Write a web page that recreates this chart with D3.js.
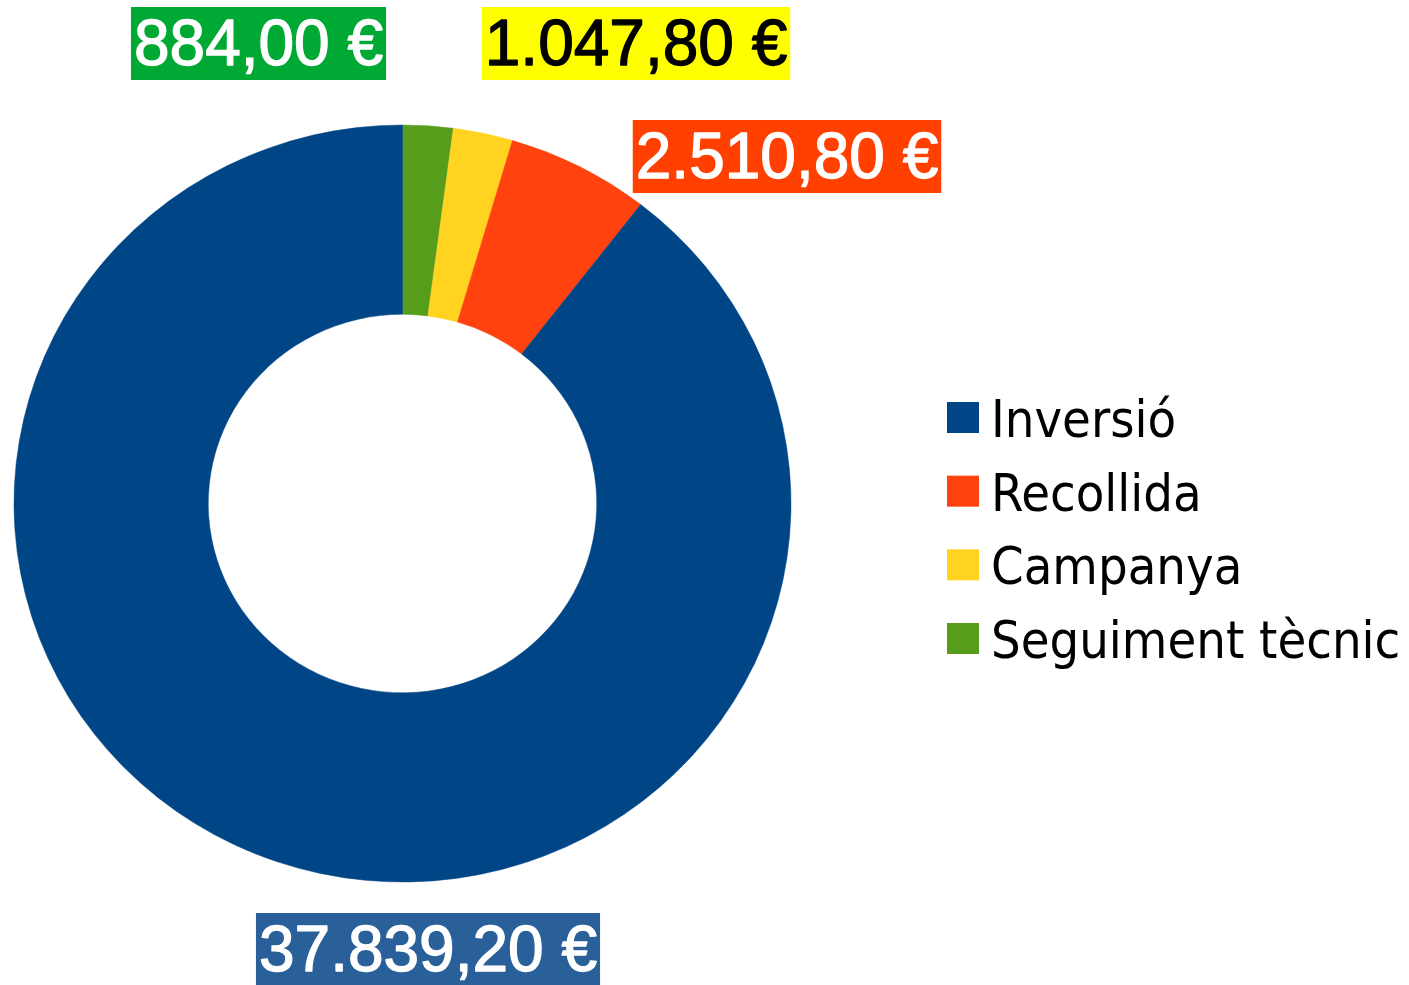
<!DOCTYPE html>
<html>
<head>
<meta charset="utf-8">
<script src="https://cdn.jsdelivr.net/npm/d3@7"></script>
<style>
  html, body { margin: 0; padding: 0; background: #fff; }
  svg { display: block; }
</style>
</head>
<body>
<svg id="chart" width="1409" height="985"></svg>
<script>
// Data (legend order)
const categories = ["Inversió", "Recollida", "Campanya", "Seguiment tècnic"];
const values = [37839.20, 2510.80, 1047.80, 884.00];
const sliceColors = ["#004586", "#ff420e", "#ffd320", "#579d1c"];
const labelBg = ["#2a6099", "#ff4000", "#ffff00", "#00a933"];
const labelFg = ["#ffffff", "#ffffff", "#000000", "#ffffff"];
const labelTexts = ["37.839,20 €", "2.510,80 €", "1.047,80 €", "884,00 €"];

// Layout
const W = 1409, H = 985;
const cx = 402.5, cy = 503.5;
const ry = 378.5, sx = 388.5 / 378.5;
const innerRatio = 0.5;
// label centers (placed like the original, outside the ring)
const labelCenters = [[428, 949.5], [787, 156.5], [636, 43.5], [258.5, 43.5]];

const svg = d3.select("#chart");

const data = categories.map((c, i) => ({ name: c, value: values[i], i }));
// pie drawn clockwise from 12 o'clock in reverse legend order
const pieData = d3.pie().sort(null).value(d => d.value)(data.slice().reverse());

const arc = d3.arc().innerRadius(ry * innerRatio).outerRadius(ry);

const g = svg.append("g")
  .attr("transform", `translate(${cx},${cy}) scale(${sx},1)`);

g.selectAll("path")
  .data(pieData)
  .join("path")
  .attr("d", arc)
  .attr("fill", d => sliceColors[d.data.i])
  .attr("stroke", d => sliceColors[d.data.i])
  .attr("stroke-width", 0.5);

// Value labels
const fontSize = 64;
const lab = svg.append("g").attr("font-family", "'Liberation Sans', Arial, sans-serif")
  .attr("font-size", fontSize);

data.forEach((d, i) => {
  const [x, y] = labelCenters[i];
  const t = lab.append("text")
    .attr("x", x)
    .attr("y", y + 21)
    .attr("text-anchor", "middle")
    .attr("fill", labelFg[i])
    .attr("stroke", labelFg[i])
    .attr("stroke-width", 1.3)
    .attr("stroke-linejoin", "round")
    .text(labelTexts[i]);
  const bb = t.node().getBBox();
  lab.insert("rect", "text")
    .attr("x", bb.x - 3)
    .attr("y", y - 36.5)
    .attr("width", bb.width + 6)
    .attr("height", 73)
    .attr("fill", labelBg[i]);
});

// Legend
const legend = svg.append("g")
  .attr("font-family", "'DejaVu Sans Condensed', 'DejaVu Sans', sans-serif")
  .attr("font-size", 52);
const rowY = d3.scalePoint().domain(categories).range([402, 623]);
categories.forEach((c, i) => {
  const y = rowY(c);
  legend.append("rect")
    .attr("x", 947).attr("y", y)
    .attr("width", 32).attr("height", 31)
    .attr("fill", sliceColors[i]);
  legend.append("text")
    .attr("x", 991).attr("y", y + 35)
    .attr("fill", "#000")
    .text(c);
});
</script>
</body>
</html>
